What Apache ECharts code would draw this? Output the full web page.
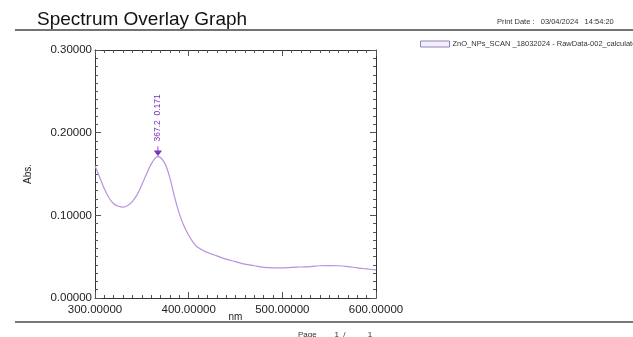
<!DOCTYPE html>
<html><head><meta charset="utf-8">
<script src="https://cdn.jsdelivr.net/npm/echarts@6/dist/echarts.min.js"></script>
<style>html,body{margin:0;padding:0;background:#fff}#c{width:633px;height:337px}</style>
</head><body><div id="c"></div>
<script>
const wavelengths = [300,305,310,315,320,325,330,335,340,345,350,355,360,365,367.2,370,375,380,385,390,395,400,405,410,420,430,440,450,460,470,480,490,500,510,520,530,540,550,560,570,580,590,600];
const absorbance = [0.160,0.146,0.132,0.121,0.114,0.111,0.110,0.112,0.117,0.125,0.137,0.150,0.162,0.170,0.171,0.170,0.162,0.145,0.122,0.102,0.087,0.076,0.067,0.061,0.055,0.051,0.047,0.044,0.041,0.039,0.037,0.0365,0.0365,0.037,0.0375,0.038,0.039,0.0392,0.039,0.038,0.0365,0.0352,0.034];
const peak = [367.2, 0.171];
const seriesName = 'ZnO_NPs_SCAN _18032024 - RawData-002_calculated';
const xRange = [300, 600];
const yRange = [0, 0.3];

const chart = echarts.init(document.getElementById('c'), null, {renderer:'canvas'});
const font = 'Liberation Sans, Arial, sans-serif';
function ax(kind, pos, interval, tickLen, withLine, extra){
  const r = kind==='x' ? xRange : yRange;
  return Object.assign({
    type:'value', min:r[0], max:r[1], interval:interval, position:pos,
    axisLine:{show:withLine,onZero:false,lineStyle:{color:'#333',width:1}},
    axisTick:{show:true,inside:true,length:tickLen,lineStyle:{color:'#555',width:1}},
    axisLabel:{show:false},
    splitLine:{show:false}
  }, extra||{});
}
chart.setOption({
  animation:false,
  textStyle:{fontFamily:font},
  grid:{left:95,right:257,top:50,bottom:39},
  legend:{
    show:true, left:420, top:40, padding:0, itemWidth:29, itemHeight:6, itemGap:3,
    icon:'rect',
    textStyle:{fontSize:7.5,color:'#333',fontFamily:font,padding:[0,0,0,-2]},
    data:[{name:seriesName,itemStyle:{color:'#f4eefb',borderColor:'#8f84b8',borderWidth:1}}]
  },
  xAxis:[
    ax('x','bottom',100,6,true,{
      name:'nm',nameLocation:'middle',nameGap:14,nameMoveOverlap:false,nameTextStyle:{fontSize:10,color:'#222'},
      axisLabel:{show:true,formatter:v=>v.toFixed(5),fontSize:11.5,color:'#222',margin:6}}),
    ax('x','top',100,6,true),
    ax('x','bottom',10,3,false),
    ax('x','top',10,3,false)
  ],
  yAxis:[
    ax('y','left',0.1,6,true,{
      name:'Abs.',nameLocation:'middle',nameGap:62,nameMoveOverlap:false,nameTextStyle:{fontSize:10,color:'#222'},
      axisLabel:{show:true,formatter:v=>v.toFixed(5),fontSize:11.5,color:'#222',margin:3}}),
    ax('y','right',0.1,6,true),
    ax('y','left',0.01,3,false),
    ax('y','right',0.01,3,false)
  ],
  series:[{
    name:seriesName, type:'line', xAxisIndex:0, yAxisIndex:0,
    data:wavelengths.map((w,i)=>[w,absorbance[i]]),
    smooth:0.4, showSymbol:false, symbol:'none',
    lineStyle:{color:'#b892dc',width:1.2},
    itemStyle:{color:'#f4eefb',borderColor:'#8f84b8'},
    markPoint:{
      symbol:'path://M5,0 L5,14 M0,9 L5,16 L10,9 Z',
      symbolSize:[6,9], symbolOffset:[0,-6],
      itemStyle:{color:'#7a2fc0',borderColor:'#7a2fc0',borderWidth:1},
      label:{show:true,position:'top',rotate:90,distance:4,
        formatter:peak[0].toFixed(1)+'  '+peak[1].toFixed(3),
        color:'#7a2fc0',fontSize:8.5,fontFamily:font,align:'left',verticalAlign:'middle'},
      data:[{coord:peak}]
    }
  }],
  graphic:[
    {type:'text',left:37,top:10,style:{text:'Spectrum Overlay Graph',font:'19px '+font,fill:'#111'}},
    {type:'line',shape:{x1:15,y1:30,x2:633,y2:30},style:{stroke:'#444',lineWidth:1.5}},
    {type:'text',left:497,top:18,style:{text:'Print Date :   03/04/2024   14:54:20',font:'7.5px '+font,fill:'#333'}},
    {type:'line',shape:{x1:15,y1:322,x2:633,y2:322},style:{stroke:'#777',lineWidth:2}},
    {type:'text',left:298,top:331,style:{text:'Page        1  /          1',font:'8px '+font,fill:'#333'}}
  ]
});
</script></body></html>
